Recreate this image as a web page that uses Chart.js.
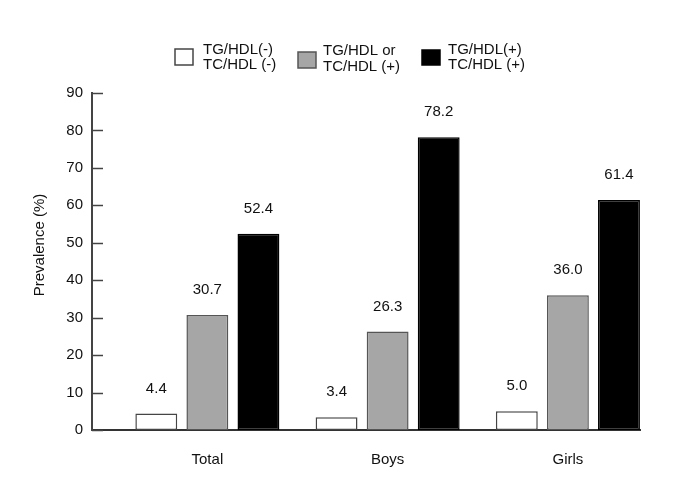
<!DOCTYPE html>
<html>
<head>
<meta charset="utf-8">
<script src="https://cdn.jsdelivr.net/npm/chart.js@4.4.1/dist/chart.umd.min.js"></script>
<style>
html,body{margin:0;padding:0;background:#fff;}
canvas{display:block;}
</style>
</head>
<body>
<canvas id="c" width="694" height="501"></canvas>
<script>
const categories = ["Total", "Boys", "Girls"];
const seriesNames = ["TG/HDL(-) TC/HDL (-)", "TG/HDL or TC/HDL (+)", "TG/HDL(+) TC/HDL (+)"];
const legendLines = [["TG/HDL(-)", "TC/HDL (-)"], ["TG/HDL or", "TC/HDL (+)"], ["TG/HDL(+)", "TC/HDL (+)"]];
const negNeg = [4.4, 3.4, 5.0];
const either = [30.7, 26.3, 36.0];
const posPos = [52.4, 78.2, 61.4];
const yTicks = [0, 10, 20, 30, 40, 50, 60, 70, 80, 90];
const yTitle = "Prevalence (%)";

const FONT = "'Liberation Sans', Arial, Helvetica, sans-serif";
const FS = 15;
const fills = ["#ffffff", "#a6a6a6", "#000000"];
const borders = ["#454545", "#555555", "#000000"];
const seriesData = [negNeg, either, posPos];

const datasets = seriesData.map((arr, k) => ({
  label: seriesNames[k],
  data: arr.map((v, i) => ({x: i, y: v})),
  backgroundColor: fills[k],
  borderColor: borders[k],
  borderWidth: 1.5,
  borderSkipped: false,
  barPercentage: 0.82,
  categoryPercentage: 0.85
}));

const extras = {
  id: 'extras',
  afterDatasetsDraw(chart) {
    const ctx = chart.ctx;
    const ys = chart.scales.y;
    ctx.save();
    // inside tick marks
    ctx.strokeStyle = '#444';
    ctx.lineWidth = 1.5;
    yTicks.forEach(t => {
      const py = Math.round(ys.getPixelForValue(t)) + 0.5;
      ctx.beginPath();
      ctx.moveTo(chart.chartArea.left, py);
      ctx.lineTo(chart.chartArea.left + 11, py);
      ctx.stroke();
    });
    // value labels
    ctx.fillStyle = '#111';
    ctx.font = FS + 'px ' + FONT;
    ctx.textAlign = 'center';
    ctx.textBaseline = 'middle';
    chart.data.datasets.forEach((ds, k) => {
      const meta = chart.getDatasetMeta(k);
      meta.data.forEach((bar, i) => {
        ctx.fillText(seriesData[k][i].toFixed(1), bar.x, bar.y - 25);
      });
    });
    // y title
    ctx.save();
    ctx.translate(40, 245);
    ctx.rotate(-Math.PI / 2);
    ctx.fillText(yTitle, 0, 0);
    ctx.restore();
    // legend
    const boxes = [
      {bx: 175, by: 49, bw: 18, bh: 16, tx: 203, l1: 50, l2: 65},
      {bx: 298, by: 52, bw: 18, bh: 16, tx: 323, l1: 51, l2: 67},
      {bx: 422, by: 50, bw: 18, bh: 15, tx: 448, l1: 50, l2: 65}
    ];
    boxes.forEach((b, k) => {
      ctx.fillStyle = fills[k];
      ctx.fillRect(b.bx, b.by, b.bw, b.bh);
      ctx.strokeStyle = borders[k];
      ctx.lineWidth = 1.5;
      ctx.strokeRect(b.bx, b.by, b.bw, b.bh);
      ctx.fillStyle = '#111';
      ctx.textAlign = 'left';
      ctx.fillText(legendLines[k][0], b.tx, b.l1);
      ctx.fillText(legendLines[k][1], b.tx, b.l2);
    });
    ctx.restore();
  }
};

new Chart(document.getElementById('c'), {
  type: 'bar',
  data: { datasets },
  options: {
    responsive: false,
    animation: false,
    layout: { padding: { left: 0, top: 93, right: 54, bottom: 31 } },
    plugins: { legend: { display: false }, tooltip: { enabled: false } },
    scales: {
      x: {
        type: 'linear',
        offset: false,
        min: -0.64,
        max: 2.4,
        grid: { display: false, drawTicks: false, offset: false },
        border: { display: true, color: '#333', width: 2 },
        afterBuildTicks(scale) { scale.ticks = categories.map((c, i) => ({value: i})); },
        afterFit(scale) { scale.height = 40; },
        ticks: {
          padding: 21,
          color: '#111',
          font: { size: FS, family: FONT },
          autoSkip: false,
          maxRotation: 0,
          callback: (v) => categories[v]
        }
      },
      y: {
        min: 0,
        max: 90,
        grid: { display: false, drawTicks: false },
        border: { display: true, color: '#444', width: 2 },
        afterBuildTicks(scale) { scale.ticks = yTicks.map(v => ({value: v})); },
        afterFit(scale) { scale.width = 92; },
        ticks: {
          padding: 9,
          color: '#111',
          font: { size: FS, family: FONT }
        }
      }
    }
  },
  plugins: [extras]
});
</script>
</body>
</html>
